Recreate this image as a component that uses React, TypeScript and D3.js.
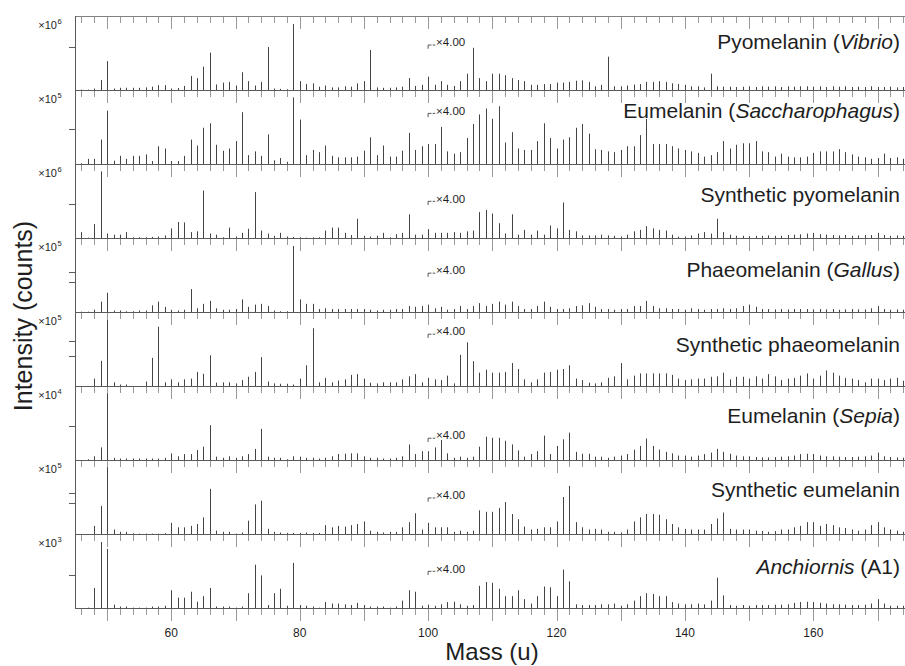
import React from 'react';
import * as d3 from 'd3';

// ---------- data ----------
const masses: number[] = d3.range(46, 175); // integer masses 46..174
const massTicks: number[] = d3.range(46, 175, 2);
const massTickLabels: number[] = [60, 80, 100, 120, 140, 160];
const magnifyAt = 100;
const magnifyText = '×4.00';

type Seg = [string, boolean];
const panelLabels: Seg[][] = [
  [['Pyomelanin (', false], ['Vibrio', true], [')', false]],
  [['Eumelanin (', false], ['Saccharophagus', true], [')', false]],
  [['Synthetic pyomelanin', false]],
  [['Phaeomelanin (', false], ['Gallus', true], [')', false]],
  [['Synthetic phaeomelanin', false]],
  [['Eumelanin (', false], ['Sepia', true], [')', false]],
  [['Synthetic eumelanin', false]],
  [['Anchiornis', true], [' (A1)', false]],
];
const exponents: number[] = [6, 5, 6, 5, 5, 4, 5, 3];
const yTickValues: number[][] = [[58.5], [47.7], [45.5], [54.5, 40.5], [61.5, 40.8], [45.9], [56.3, 42.8], [44.6]];

// intensities (percent of panel full scale, as displayed; masses >= 100 shown x4)
const pyoVibrio = [
  0.5, 0.5, 2, 13.5, 39, 2, 3, 3, 3, 3,
  3.5, 4.5, 6.5, 6.5, 2, 2.5, 5.5, 19, 16, 31.5,
  50.5, 7.5, 10, 11, 6, 24, 12, 6, 11, 58,
  2, 1.5, 1, 89, 12, 8, 9, 4.5, 6, 3.5,
  3.5, 5, 4.5, 9, 12, 54, 3.5, 3, 3, 3.5,
  4.5, 16, 5.5, 7, 18, 7, 12, 7, 5.5, 12,
  22, 57, 16, 12, 22, 22, 20, 16, 13.5, 12,
  7, 7, 8, 8, 10, 10, 11, 12.5, 13, 11,
  5, 7, 45, 5, 5, 6, 7.5, 8, 11, 11,
  12, 11, 9, 8, 7, 5, 5, 3.5, 22, 5,
  4.5, 4.5, 4, 4.5, 5, 4, 5, 4.5, 5, 4,
  5, 4.5, 5, 5, 4.5, 5, 4, 5, 4.5, 5,
  4, 4.5, 4, 5, 4, 4, 4.5, 3.5, 4,
];
const euSaccharophagus = [
  1, 7, 7, 33, 72, 4.5, 11, 7, 11, 11,
  13, 4, 24, 21, 4, 4, 11, 33, 25, 49,
  55, 26, 18, 21, 31, 70, 12, 17, 11, 40,
  5, 8, 3, 90, 60, 12, 19, 16, 25, 11,
  9, 9, 9, 10, 18, 36, 12, 25, 10, 10,
  18, 42, 19, 24, 27, 27, 50, 17, 14, 16,
  35, 54, 67, 75, 61, 78, 29, 43, 21, 19,
  19, 31, 55, 35, 21, 33, 36, 49, 54, 41,
  20, 19, 17, 16, 19, 24, 24, 39, 61, 27,
  27, 27, 24, 21, 19, 17, 15, 10, 12, 16,
  31, 21, 26, 28, 28, 31, 17, 16, 10, 14,
  10, 9, 9, 10, 15, 17, 17, 17, 20, 16,
  13, 10, 9, 7, 8, 14, 8, 9, 7,
];
const synPyomelanin = [
  8, 0.5, 19, 90, 6, 4.5, 4.5, 8, 1, 1,
  1, 1.5, 2, 3.5, 13, 21.5, 21, 8, 9, 64,
  6, 4.5, 1, 14, 2, 7, 12.5, 62, 10, 6,
  3, 7, 2, 1.5, 1, 0.5, 1, 1, 10, 14,
  14, 7, 4, 26, 3, 2, 3, 7, 1, 5,
  7, 32, 4.5, 4.5, 12, 7, 7, 7, 8, 7,
  9, 10, 35, 38, 33, 20, 6, 32, 4.5, 11,
  4.5, 10, 4.5, 17, 13, 48, 11, 9, 3.5, 3.5,
  3.5, 4.5, 3.5, 3, 2, 4.5, 9, 11, 16, 13,
  11, 10, 4.5, 2, 2, 3.5, 6, 8, 6, 26,
  8, 4.5, 3, 3, 2.5, 3, 3, 3.5, 3, 3,
  4, 4.5, 5, 6, 7, 5, 4.5, 4, 3.5, 4,
  3, 3.5, 4, 4, 7, 4, 3, 3.5, 3,
];
const phaeoGallus = [
  0.5, 0.5, 3, 14, 26, 2, 2, 1, 1, 2,
  2, 9, 14, 7, 3, 2, 3, 31, 5, 11,
  15, 5, 3, 3, 4, 17, 7, 10, 11, 8,
  2, 1, 1, 89, 17, 11, 11, 4, 5, 4,
  4, 4, 4, 4, 4, 3, 2, 3, 3, 4,
  4, 8, 7, 8, 10, 5, 7, 3, 4, 8,
  4, 8, 12, 8, 11, 14, 10, 14, 8, 4,
  4, 8, 14, 7, 4, 4, 5, 8, 9, 12,
  7, 4, 4, 3, 4, 4, 8, 8, 15, 8,
  5, 5, 4, 4, 3, 5, 4, 3, 4, 4,
  5, 4, 5, 8, 10, 7, 4, 4, 3.5, 4,
  3.5, 4, 4, 4, 3.5, 4, 3.5, 4, 3, 3.5,
  4, 3.5, 3.5, 5, 8, 4, 3, 3.5, 3,
];
const synPhaeomelanin = [
  0, 0, 10, 34, 89, 5, 2, 2, 0, 0,
  6, 38, 80, 5, 9, 5, 9, 10, 19, 16.5,
  41.5, 4.5, 5, 5, 3.5, 8, 12.5, 19, 39, 6,
  3.5, 3, 3, 2, 10, 28, 78, 5, 11, 5,
  7.5, 9, 15, 16, 10, 4.5, 3.5, 5, 5, 5,
  9, 13, 16, 5, 11, 9, 8, 14, 3.5, 42,
  59, 33.5, 18, 22, 18, 18, 19, 31, 23, 9,
  5, 9, 18, 19, 22, 23, 28, 10, 8, 4.5,
  3.5, 5, 11, 13, 31, 9, 14, 17, 17, 17,
  17, 17, 15, 10, 8, 9, 10, 10, 12.5, 13,
  18, 9, 12.5, 12.5, 10, 13, 10, 16, 13, 8,
  10, 11, 14, 17, 10, 14, 21, 18, 14, 11,
  10, 8, 5, 10, 10, 8, 10, 11, 7,
];
const euSepia = [
  0, 1, 5, 17, 90, 3, 2, 2, 2, 2,
  2, 2, 2, 3, 9, 5, 8, 8, 13.5, 18,
  47, 4.5, 3, 5, 3, 5, 8, 15, 42, 4.5,
  3, 3, 1, 5, 4.5, 3, 3, 2, 3, 5,
  8, 8.5, 9, 9, 5, 3, 3, 2, 2, 3,
  5, 21, 8, 12, 12, 17, 27, 9, 3, 4.5,
  3, 4.5, 18, 31.5, 30, 30, 26, 21, 13, 4.5,
  8, 12, 33, 8, 19, 28, 37, 11, 8.5, 8.5,
  4.5, 4.5, 3, 4.5, 6, 8, 14, 19, 29, 19,
  14, 11, 9, 6, 6, 4.5, 6, 8, 10, 15,
  11, 8.5, 6, 5, 5, 4, 3.5, 3.5, 4, 4.5,
  5, 6, 8, 8.5, 8, 6, 5, 5, 4.5, 4,
  4, 4.5, 5, 6, 10, 5, 4, 3.5, 3,
];
const synEumelanin = [
  0, 0, 11, 38, 90, 6, 3, 3, 1, 0.5,
  0.5, 0.5, 0.5, 1, 15, 9, 9, 11, 13.5, 22.5,
  61, 4.5, 3, 3, 0.5, 2, 18, 40, 45, 7,
  3, 2, 1.5, 1.5, 1.5, 2, 1.5, 1.5, 12, 9,
  11, 10, 12, 13.5, 17, 4.5, 3, 2, 3, 3,
  9, 16, 28, 6, 15, 9, 9, 9, 3, 4.5,
  3, 4.5, 32, 30, 30, 35, 43, 27, 20, 10,
  6, 7, 9, 9, 17, 50, 65, 16, 9, 6,
  7, 6, 3, 3, 2, 6, 17, 22.5, 27, 27,
  26, 20, 13.5, 9, 7, 6, 6, 6, 13.5, 21,
  29, 7, 6, 6, 6, 4.5, 4, 3, 4, 6,
  6, 9, 11, 16, 16, 11, 13.5, 12, 9, 8,
  6, 4.5, 6, 12, 16, 9, 6, 4.5, 3,
];
const anchiornisA1 = [
  0, 0.5, 27, 89, 80, 4.5, 2, 2, 0.5, 0.5,
  0.5, 2, 2, 3, 24, 14, 14, 22, 8.5, 16,
  27, 2, 2, 2, 0.5, 2, 20, 58.5, 44, 4,
  20, 26, 3, 61, 4, 3, 2, 0.5, 8, 6,
  6, 5, 4, 7, 4, 2, 2, 2, 0.5, 2,
  10, 24, 22, 3, 4.5, 3, 5, 8, 8.5, 5,
  3, 4, 30, 35, 34, 26, 16, 16, 24, 12,
  6, 16, 29, 28, 16, 52, 36, 5, 4, 4,
  4, 5, 5, 6, 3, 5, 10, 16, 20, 19,
  16, 16, 8, 6, 5, 5, 6, 5, 10, 41,
  17, 4, 3, 4, 3, 4, 4, 4, 4.5, 4.5,
  5, 7, 8, 8.5, 8, 7, 6, 5, 5, 4.5,
  4, 4, 4.5, 6, 12, 6, 3, 3, 3,
];
const spectra: number[][] = [
  pyoVibrio, euSaccharophagus, synPyomelanin, phaeoGallus,
  synPhaeomelanin, euSepia, synEumelanin, anchiornisA1,
];

// ---------- layout ----------
const W = 905;
const H = 666;
const LEFT = 75;
const TOP = 16;
const PANEL_H = 74.04;
const labelRise = [40.7, 45.7, 35.8, 34.8, 34.4, 36.9, 37.6, 34];
const markerRise = [48, 53.7, 39.8, 42, 55, 25, 39.3, 40];
const FONT = "Arial, 'Liberation Sans', Helvetica, sans-serif";

const STICK = '#444444';
const TICK = '#999999';
const AXIS = '#5a5a5a';
const TEXT = '#1e1e1e';

export default function App() {
  const x = d3.scaleLinear().domain([45, 175]).range([LEFT, LEFT + 130 * 6.42]);
  const px = (m: number) => Math.round(x(m)) + 0.5;
  const hLines = d3.range(0, 9).map((k) => TOP + k * PANEL_H);
  const bottom = hLines[8];

  return (
    <svg
      width={W}
      height={H}
      style={{ position: 'absolute', left: 0, top: 0, background: '#fff' }}
      fontFamily={FONT}
    >
      <rect x={0} y={0} width={W} height={H} fill="#fff" />

      {/* x ticks (down) on every horizontal line */}
      {hLines.map((yy, k) => (
        <g key={'t' + k}>
          {massTicks.map((m) => (
            <line
              key={m}
              x1={px(m)}
              x2={px(m)}
              y1={Math.round(yy)}
              y2={Math.round(yy) + (m % 10 === 0 ? 13 : 7)}
              stroke={TICK}
              strokeWidth={1}
            />
          ))}
        </g>
      ))}

      {/* panels */}
      {spectra.map((vals, i) => {
        const top = hLines[i];
        const base = hLines[i + 1];
        const y = d3.scaleLinear().domain([0, 100]).range([base, top]);
        const yb = Math.round(base);
        const mY = base - markerRise[i];
        const mx = x(magnifyAt);
        return (
          <g key={'p' + i}>
            {masses.map((m, j) => (
              <line
                key={m}
                x1={px(m)}
                x2={px(m)}
                y1={yb}
                y2={yb - (base - y(vals[j]))}
                stroke={STICK}
                strokeWidth={1}
              />
            ))}
            {/* y ticks */}
            {yTickValues[i].map((v, t) => (
              <line
                key={'yt' + t}
                x1={LEFT - 6}
                x2={LEFT}
                y1={Math.round(y(v)) + 0.5}
                y2={Math.round(y(v)) + 0.5}
                stroke={AXIS}
                strokeWidth={1}
              />
            ))}
            {/* exponent */}
            <text x={57} y={top + 12.8} fontSize={11} textAnchor="end" fill={TEXT}>
              ×10
            </text>
            <text x={57.5} y={top + 8} fontSize={7.5} fill={TEXT}>
              {exponents[i]}
            </text>
            {/* magnification marker */}
            <path
              d={`M${mx},${mY + 6.7} V${mY + 3} H${mx + 3.4}`}
              fill="none"
              stroke="#444"
              strokeWidth={0.9}
            />
            <line x1={mx + 4.6} x2={mx + 7.2} y1={mY + 3} y2={mY + 3} stroke="#444" strokeWidth={0.9} />
            <text x={mx + 8} y={mY + 4.2} fontSize={11.5} fill={TEXT}>
              {magnifyText}
            </text>
            {/* panel label */}
            <text x={900} y={base - labelRise[i]} fontSize={21} textAnchor="end" fill={TEXT}>
              {panelLabels[i].map(([s, it], q) => (
                <tspan key={q} fontStyle={it ? 'italic' : 'normal'}>
                  {s}
                </tspan>
              ))}
            </text>
          </g>
        );
      })}

      {/* horizontal lines */}
      {hLines.map((yy, k) => (
        <line
          key={'h' + k}
          x1={LEFT}
          x2={W}
          y1={Math.round(yy) + 0.5}
          y2={Math.round(yy) + 0.5}
          stroke={k === 0 ? '#808080' : AXIS}
          strokeWidth={1}
        />
      ))}
      {/* left axis */}
      <line x1={LEFT + 0.5} x2={LEFT + 0.5} y1={TOP} y2={Math.round(bottom) + 1} stroke={AXIS} strokeWidth={1} />

      {/* x tick labels */}
      {massTickLabels.map((m) => (
        <text key={m} x={x(m)} y={bottom + 28.5} fontSize={12} textAnchor="middle" fill={TEXT}>
          {m}
        </text>
      ))}

      {/* axis titles */}
      <text x={492} y={660} fontSize={24} textAnchor="middle" fill={TEXT}>
        Mass (u)
      </text>
      <text transform="translate(32,316) rotate(-90)" fontSize={25} textAnchor="middle" fill={TEXT}>
        Intensity (counts)
      </text>
    </svg>
  );
}
